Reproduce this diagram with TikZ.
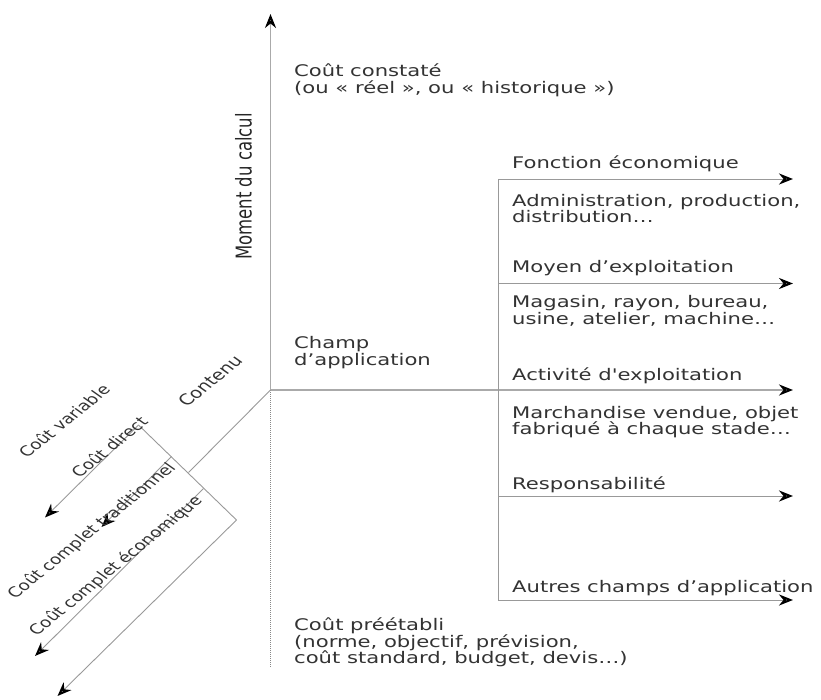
\documentclass[tikz,border=0pt]{standalone}
\usepackage{graphicx}
\usepackage{fontspec}
\setmainfont{DejaVu Sans}
\newfontfamily\widef{DejaVu Sans}[FakeStretch=1.32]
\usetikzlibrary{arrows.meta}
\definecolor{txt}{HTML}{333333}
\definecolor{axc}{HTML}{AAAAAA}
\definecolor{lnc}{HTML}{999999}
\definecolor{dotc}{HTML}{888888}
\begin{document}
\begin{tikzpicture}[x=1pt,y=-1pt,
  lbl/.style={anchor=base west, inner sep=0pt, text=txt, font=\widef\fontsize{16}{16}\selectfont},
  diag/.style={inner sep=0pt, text=txt, font=\fontsize{14}{14}\selectfont},
  arr/.style={-{Stealth[length=14pt,width=11pt,inset=4.5pt,color=black,fill=gray!45,line width=2pt]}},
  axisline/.style={draw=axc, line width=1.8pt},
  thin/.style={draw=lnc, line width=0.9pt},
  dotline/.style={draw=dotc, line width=1pt, densely dotted}]
\useasboundingbox (0,0) rectangle (821,700);

% coordinates
\coordinate (O) at (270.5,390);
\coordinate (top) at (270.5,14);
\coordinate (bot) at (270.5,668);
\coordinate (hend) at (793,390);
\coordinate (b1) at (498,179);
\coordinate (b2) at (498,283.5);
\coordinate (b4) at (498,496);
\coordinate (b5) at (498,600);
\coordinate (e1) at (793,179);
\coordinate (e2) at (793,283.5);
\coordinate (e4) at (793,496);
\coordinate (e5) at (793,600);
\coordinate (p1) at (138.5,425);
\coordinate (p2) at (171.5,456.5);
\coordinate (pc) at (188.5,472.5);
\coordinate (p3) at (203.5,488.5);
\coordinate (p4) at (236.5,520);
\coordinate (t1) at (45,517.5);
\coordinate (t2) at (101.5,527);
\coordinate (t3) at (35,656);
\coordinate (t4) at (57.5,696);

% axes
\draw[dotline] (O) -- (bot);
\draw[axisline, arr] (O) -- (top);
\draw[axisline, line width=1.4pt, arr] (O) -- (hend);

% branches
\draw[thin] (b1) -- (b5);
\draw[thin, arr] (b1) -- (e1);
\draw[thin, arr] (b2) -- (e2);
\draw[thin, arr] (b4) -- (e4);
\draw[thin, arr] (b5) -- (e5);

% contenu
\draw[thin] (O) -- (pc);
\draw[thin] (p1) -- (p4);
\draw[thin, arr] (p1) -- (t1);
\draw[thin, arr] (p2) -- (t2);
\draw[thin, arr] (p3) -- (t3);
\draw[thin, arr] (p4) -- (t4);

% texts
\node[lbl] (cc1) at (294,77) {Coût constaté};
\node[lbl] (cc2) at (294,93.5) {(ou « réel », ou « historique »)};
\node[lbl] (ch1) at (294,348.5) {Champ};
\node[lbl] (ch2) at (294,365) {d’application};
\node[lbl] (cp1) at (294,630.5) {Coût préétabli};
\node[lbl] (cp2) at (294,647) {(norme, objectif, prévision,};
\node[lbl] (cp3) at (294,663.5) {coût standard, budget, devis…)};

\node[lbl] (f1) at (512,169) {Fonction économique};
\node[lbl] (f2) at (512,206.5) {Administration, production,};
\node[lbl] (f3) at (512,222.5) {distribution…};
\node[lbl] (m1) at (512,273) {Moyen d’exploitation};
\node[lbl] (m2) at (512,308) {Magasin, rayon, bureau,};
\node[lbl] (m3) at (512,324) {usine, atelier, machine…};
\node[lbl] (a1) at (512,380.5) {Activité d'exploitation};
\node[lbl] (a2) at (512,418) {Marchandise vendue, objet};
\node[lbl] (a3) at (512,434.5) {fabriqué à chaque stade…};
\node[lbl] (r1) at (512,489) {Responsabilité};
\node[lbl] (x1) at (512,592) {Autres champs d’application};

\node[diag, text=black!85, font=\fontsize{16.5}{16.5}\selectfont] (moment) at (243.5,186.5) {\scalebox{1.32}[1]{\rotatebox{90}{Moment du calcul}}};

\node[diag, font=\fontsize{15}{15}\selectfont] (contenu) at (210,381) {\scalebox{1.32}[1]{\rotatebox{47}{Contenu}}};
\node[diag] (cvar) at (64,421) {\scalebox{1.32}[1]{\rotatebox{47}{Coût variable}}};
\node[diag] (cdir) at (109,447) {\scalebox{1.32}[1]{\rotatebox{47}{Coût direct}}};
\node[diag] (ctrad) at (92,531) {\scalebox{1.32}[1]{\rotatebox{47}{Coût complet traditionnel}}};
\node[diag] (ceco) at (116,566) {\scalebox{1.32}[1]{\rotatebox{47}{Coût complet économique}}};
\end{tikzpicture}
\end{document}
